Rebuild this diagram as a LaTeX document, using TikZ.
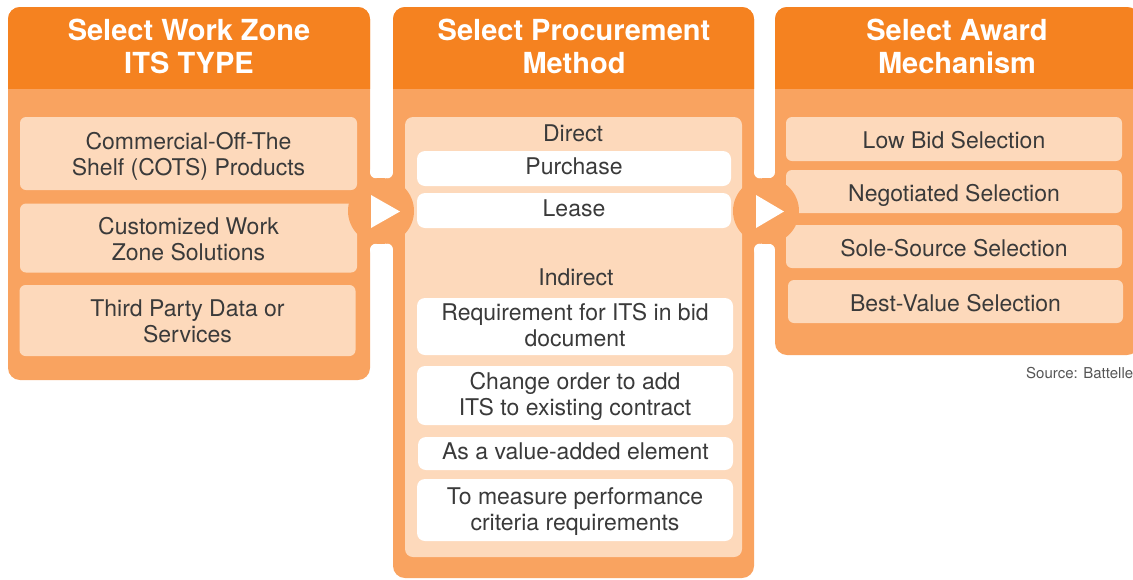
\documentclass[tikz,border=0pt]{standalone}
\usepackage{fontspec}
\setmainfont{TeX Gyre Heros}
\definecolor{hdrc}{RGB}{245,130,32}
\definecolor{bodyc}{RGB}{249,163,96}
\definecolor{boxc}{RGB}{253,217,187}
\definecolor{txt}{RGB}{58,58,58}
\definecolor{srcc}{RGB}{85,85,85}
\newcommand\twolines[4]{\rule{0pt}{#1}#3\\#4\rule[-#2]{0pt}{#2}}
\begin{document}
\begin{tikzpicture}[x=1pt,y=-1pt,
  hdr/.style={text=white, font=\bfseries\fontsize{29}{33}\selectfont, align=center, inner sep=0pt},
  item/.style={rounded corners=6pt, fill=boxc, text=txt, font=\fontsize{23}{26}\selectfont, align=center, inner sep=0pt},
  witem/.style={item, fill=white, rounded corners=8pt},
  one/.style={text height=21pt, text depth=2pt},
  wone/.style={text height=15pt, text depth=2.2pt},
  lbl/.style={text=txt, font=\fontsize{23}{26}\selectfont, inner sep=0pt, anchor=base},
  arrowc/.style={circle, fill=bodyc, minimum size=66pt, inner sep=0pt}]
\useasboundingbox (0,0) rectangle (1133,579);
% panel bodies
\fill[bodyc, rounded corners=12pt] (8,7) rectangle (370,380);
\fill[bodyc, rounded corners=12pt] (393,7) rectangle (754,578);
\fill[bodyc, rounded corners=12pt] (775,7) rectangle (1139,355);
% headers
\begin{scope}
\clip (0,0) rectangle (1139,88);
\fill[hdrc, rounded corners=12pt] (8,7) rectangle (370,110);
\fill[hdrc, rounded corners=12pt] (393,7) rectangle (754,110);
\fill[hdrc, rounded corners=12pt] (775,7) rectangle (1139,110);
\end{scope}
\node[hdr] (h1) at (189,46.5) {Select Work Zone\\ITS TYPE};
\node[hdr] (h2) at (574,46.5) {Select Procurement\\Method};
\node[hdr] (h3) at (957,46.5) {Select Award\\Mechanism};
% panel 1 items
\node[item, minimum width=337pt, minimum height=73pt] (c1) at (188.5,153.5) {\twolines{23pt}{5pt}{Commercial-Off-The}{Shelf (COTS) Products}};
\node[item, minimum width=337pt, minimum height=69pt] (c2) at (188.5,238) {\twolines{23pt}{5pt}{Customized Work}{Zone Solutions}};
\node[item, minimum width=336pt, minimum height=71pt] (c3) at (187.5,320.5) {\twolines{23pt}{5pt}{Third Party Data or}{Services}};
% panel 2 inner
\fill[boxc, rounded corners=8pt] (405,117) rectangle (742,557);
\node[lbl] (dir) at (573,141) {Direct};
\node[witem, wone, minimum width=314pt, minimum height=35pt] (pur) at (574,168.5) {Purchase};
\node[witem, wone, minimum width=314pt, minimum height=35pt] (lea) at (574,210.5) {Lease};
\node[lbl] (ind) at (576,285) {Indirect};
\node[witem, minimum width=316pt, minimum height=57pt] (req) at (575,326.5) {\twolines{19pt}{5pt}{Requirement for ITS in bid}{document}};
\node[witem, minimum width=316pt, minimum height=59pt] (chg) at (575,395.5) {\twolines{19pt}{5pt}{Change order to add}{ITS to existing contract}};
\node[witem, wone, minimum width=315pt, minimum height=33pt] (val) at (575.5,453.5) {As a value-added element};
\node[witem, minimum width=316pt, minimum height=62pt] (mea) at (575,510) {\twolines{19pt}{5pt}{To measure performance}{criteria requirements}};
% panel 3 items
\node[item, one, minimum width=336pt, minimum height=44pt] (low) at (954,139) {Low Bid Selection};
\node[item, one, minimum width=336pt, minimum height=43pt] (neg) at (954,191.5) {Negotiated Selection};
\node[item, one, minimum width=336pt, minimum height=43pt] (sole) at (954,246.5) {Sole-Source Selection};
\node[item, one, minimum width=335pt, minimum height=43pt] (best) at (955.5,301.5) {Best-Value Selection};
% arrow circles with fillets
\foreach \s in {1,-1}{
  \begin{scope}[shift={(381,211)}, yscale=\s]
    \fill[bodyc] (-11,-38.68) -- (-5,-38.68) -- (-4.23,-32.73) -- (0,-20) -- (5.08,-32.61) -- (6,-38.54) -- (12,-38.54) -- (12,-20) -- (-11,-20) -- cycle;
    \fill[white] (-5,-38.68) circle[radius=6pt];
    \fill[white] (6,-38.54) circle[radius=6pt];
  \end{scope}
  \begin{scope}[shift={(766,211)}, yscale=\s]
    \fill[bodyc] (-12,-38.54) -- (-6,-38.54) -- (-5.08,-32.61) -- (0,-20) -- (2.54,-32.9) -- (3,-38.88) -- (9,-38.88) -- (9,-20) -- (-12,-20) -- cycle;
    \fill[white] (-6,-38.54) circle[radius=6pt];
    \fill[white] (3,-38.88) circle[radius=6pt];
  \end{scope}
}
\node[arrowc] (a1) at (381,211) {};
\node[arrowc] (a2) at (766,211) {};
\fill[white] (371,195) -- (371,228) -- (400,211.5) -- cycle;
\fill[white] (756,195) -- (756,228) -- (784,211.5) -- cycle;
% source
\node[anchor=base west, text=srcc, font=\fontsize{15}{17}\selectfont, inner sep=0pt] (src) at (1026,378) {Source: Battelle};
\end{tikzpicture}
\end{document}
